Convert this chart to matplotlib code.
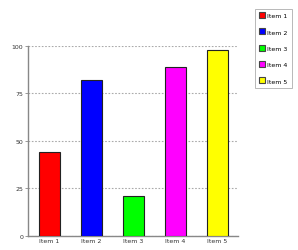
import matplotlib
matplotlib.use("Agg")
import matplotlib.pyplot as plt
from matplotlib.lines import Line2D

categories = ["Item 1", "Item 2", "Item 3", "Item 4", "Item 5"]
values = [44, 82, 21, 89, 98]
colors = ["#ff0000", "#0000ff", "#00ff00", "#ff00ff", "#ffff00"]
yticks = [0, 25, 50, 75, 100]

fig = plt.figure(figsize=(2.98, 2.51), dpi=100)
ax = fig.add_axes([0.094, 0.056, 0.705, 0.757])
x = list(range(len(categories)))
ax.bar(x, values, width=0.5, color=colors, edgecolor="#222222", linewidth=0.8, zorder=3)
ax.set_xlim(-0.5, 4.5)
ax.set_ylim(0, 100)
ax.set_yticks(yticks)
ax.set_yticklabels([str(t) for t in yticks], fontsize=4.5, color="#333333")
ax.set_xticks(x)
ax.set_xticklabels(categories, fontsize=4.5, color="#333333")
ax.tick_params(axis="both", length=2, width=0.6, color="#888888", pad=1.5)
ax.tick_params(axis="x", length=0)
ax.yaxis.grid(True, linestyle=(0, (1.5, 1.5)), color="#aaaaaa", linewidth=0.8, zorder=0)
for s in ["top", "right"]:
    ax.spines[s].set_visible(False)
for s in ["left", "bottom"]:
    ax.spines[s].set_color("#888888")
    ax.spines[s].set_linewidth(1.0)

handles = [Line2D([], [], marker="s", linestyle="none", markersize=4,
                  markerfacecolor=c, markeredgecolor="#444444", markeredgewidth=0.8)
           for c in colors]
leg = fig.legend(handles, categories, loc="upper left", bbox_to_anchor=(0.855, 0.962),
                 fontsize=4.5, frameon=True, fancybox=False, edgecolor="#999999",
                 handlelength=0.8, handletextpad=0.5, borderpad=0.7, labelspacing=1.75,
                 borderaxespad=0)
leg.get_frame().set_linewidth(0.6)

fig.savefig("out.png", dpi=100)
